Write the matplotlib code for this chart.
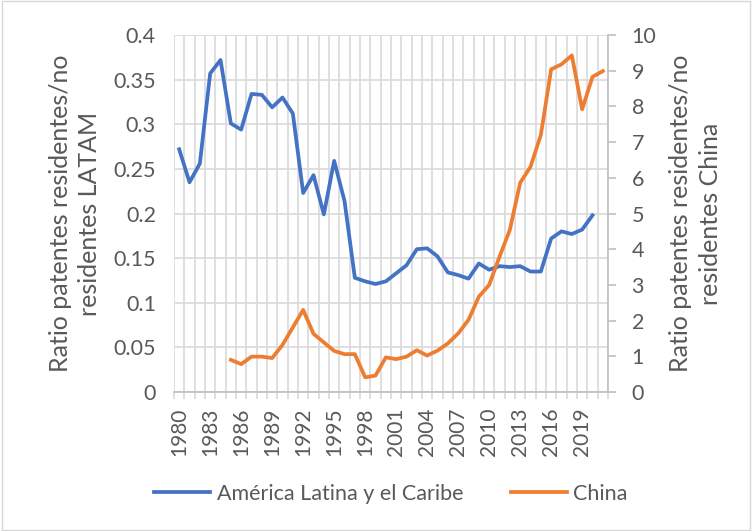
import numpy as np
import matplotlib.pyplot as plt
from matplotlib.patches import Rectangle

years = list(range(1980, 2022))

latam = [0.272, 0.235, 0.256, 0.357, 0.372, 0.301, 0.294, 0.334, 0.333, 0.319,
         0.330, 0.312, 0.223, 0.243, 0.199, 0.259, 0.214, 0.128, 0.124, 0.121,
         0.124, 0.133, 0.142, 0.160, 0.161, 0.152, 0.134, 0.131, 0.127, 0.144,
         0.137, 0.141, 0.140, 0.141, 0.135, 0.135, 0.172, 0.180, 0.177, 0.182,
         0.198, np.nan]

china = [np.nan] * 5 + [0.90, 0.78, 0.99, 0.99, 0.95,
         1.32, 1.81, 2.30, 1.63, 1.39, 1.15, 1.06, 1.06, 0.41, 0.46,
         0.97, 0.92, 0.99, 1.17, 1.02, 1.16, 1.36, 1.64, 2.02, 2.67,
         3.00, 3.79, 4.54, 5.86, 6.31, 7.20, 9.04, 9.18, 9.43, 7.92,
         8.83, 8.99]

blue = '#4472C4'
orange = '#ED7D31'
grid = '#D9D9D9'
txt = '#595959'
plt.rcParams['font.family'] = ['Lato', 'DejaVu Sans']

fig = plt.figure(figsize=(7.52, 5.31), dpi=100)
ax = fig.add_axes([0.2314, 0.2618, 0.5771, 0.6722])
ax2 = ax.twinx()

x = np.arange(len(years))
ax.plot(x, latam, color=blue, lw=2.7, solid_joinstyle='round', zorder=3)
ax2.plot(x, china, color=orange, lw=2.7, solid_joinstyle='round', zorder=3)

ax.set_xlim(-0.5, len(years) - 0.5)
ax.set_ylim(0, 0.4)
ax2.set_ylim(0, 10)
ax.set_yticks(np.arange(0, 0.41, 0.05))
ax.set_yticklabels(['0', '0.05', '0.1', '0.15', '0.2', '0.25', '0.3', '0.35', '0.4'])
ax2.set_yticks(range(0, 11))

ax.set_xticks(x[::3])
ax.set_xticklabels([str(y) for y in years[::3]], rotation=90)
ax.set_xticks(np.arange(-0.5, len(years)), minor=True)
ax.tick_params(axis='x', which='major', length=0, pad=11, labelsize=15, colors=txt)
ax.tick_params(axis='x', which='minor', length=5, color=grid, width=1.2)
ax.tick_params(axis='y', length=0, labelsize=15.5, colors=txt, pad=13)
ax2.tick_params(axis='y', length=6, color='#BFBFBF', width=1.2, labelsize=15.5, colors=txt, pad=11)

ax.grid(True, which='minor', axis='x', color=grid, lw=1.2)
ax.grid(True, which='major', axis='y', color=grid, lw=1.2)
ax.set_axisbelow(True)

for s in ['top', 'left']:
    ax.spines[s].set_visible(False)
    ax2.spines[s].set_visible(False)
ax.spines['right'].set_visible(False)
ax.spines['bottom'].set_color('#BFBFBF')
ax.spines['bottom'].set_linewidth(1.2)
ax2.spines['bottom'].set_visible(False)
ax2.spines['right'].set_color('#BFBFBF')
ax2.spines['right'].set_linewidth(1.2)

ax.set_ylabel('Ratio patentes residentes/no\nresidentes LATAM', fontsize=18, color=txt,
              labelpad=9, linespacing=1.3)
ax2.set_ylabel('Ratio patentes residentes/no\nresidentes China', fontsize=18, color=txt,
               labelpad=9, linespacing=1.35)

h1, = ax.plot([], [], color=blue, lw=2.7)
h2, = ax.plot([], [], color=orange, lw=2.7)
fig.legend([h1, h2], ['América Latina y el Caribe', 'China'], loc='center',
           bbox_to_anchor=(0.52, 0.07), ncol=2, frameon=False, fontsize=15.5,
           labelcolor=txt, handlelength=2.6, columnspacing=2.2, handletextpad=0.3)

fig.patches.append(Rectangle((0.002, 0.002), 0.996, 0.996, transform=fig.transFigure,
                             fill=False, edgecolor='#D9D9D9', lw=1))

fig.savefig('out.png', dpi=100)
